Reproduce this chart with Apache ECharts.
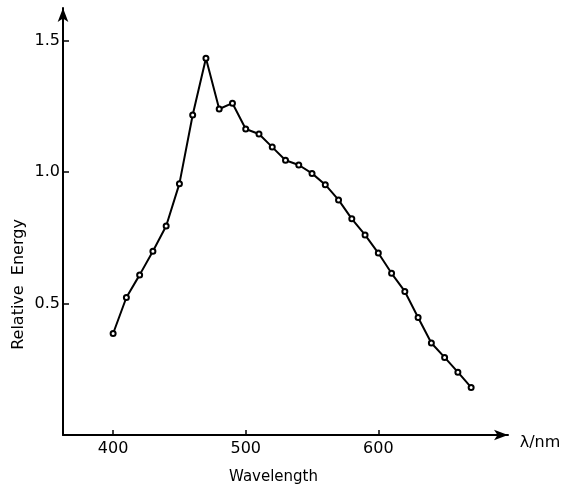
<!DOCTYPE html>
<html>
<head>
<meta charset="utf-8">
<script src="https://cdn.jsdelivr.net/npm/echarts@6/dist/echarts.min.js"></script>
<style>html,body{margin:0;padding:0;background:#fff}#c{width:577px;height:488px}</style>
</head>
<body>
<div id="c"></div>
<script>
var wavelengths = [400,410,420,430,440,450,460,470,480,490,500,510,520,530,540,550,560,570,580,590,600,610,620,630,640,650,660,670];
var energy = [0.386,0.523,0.609,0.699,0.795,0.956,1.217,1.433,1.240,1.262,1.164,1.145,1.095,1.045,1.027,0.995,0.952,0.894,0.822,0.761,0.692,0.615,0.546,0.447,0.350,0.295,0.239,0.181];
var xTicks = [400,500,600];
var yTicks = [0.5,1.0,1.5];
var yTickLabels = ['0.5','1.0','1.5'];
var xTitle = 'Wavelength';
var yTitle = 'Relative  Energy';
var unitLabel = 'λ/nm';

var font = '"DejaVu Sans", sans-serif';
var chart = echarts.init(document.getElementById('c'), null, {renderer:'canvas'});
chart.setOption({
  animation:false,
  backgroundColor:'#fff',
  grid:{left:63, top:8, right:69, bottom:53, containLabel:false},
  xAxis:{
    type:'value', min:362.2, max:697.8,
    splitLine:{show:false},
    axisLine:{show:true, onZero:false, lineStyle:{color:'#000', width:2}, symbol:['none','arrow'], symbolSize:[8,14]},
    axisTick:{show:true, inside:true, length:5, lineStyle:{color:'#000', width:1.5}, customValues:xTicks},
    axisLabel:{show:true, margin:6, color:'#000', fontFamily:font, fontSize:16, customValues:xTicks}
  },
  yAxis:{
    type:'value', min:0, max:1.624,
    splitLine:{show:false},
    axisLine:{show:true, onZero:false, lineStyle:{color:'#000', width:2}, symbol:['none','arrow'], symbolSize:[8,14]},
    axisTick:{show:true, inside:true, length:6, lineStyle:{color:'#000', width:1.5}, customValues:yTicks},
    axisLabel:{show:true, margin:3, color:'#000', fontFamily:font, fontSize:16, customValues:yTicks,
      formatter:function(v){ var i = yTicks.indexOf(v); return i>=0 ? yTickLabels[i] : ''; }}
  },
  graphic:[{
    type:'text', x:273.5, y:477,
    style:{text:xTitle, fill:'#000', font:'15px "DejaVu Sans", sans-serif', textAlign:'center', textVerticalAlign:'middle'}
  },{
    type:'text', x:18.5, y:284.5, rotation:Math.PI/2,
    style:{text:yTitle, fill:'#000', font:'16px "DejaVu Sans", sans-serif', textAlign:'center', textVerticalAlign:'middle'}
  },{
    type:'text', x:540, y:443,
    style:{text:unitLabel, fill:'#000', font:'16px "DejaVu Sans", sans-serif', textAlign:'center', textVerticalAlign:'middle'}
  }],
  series:[{
    type:'line',
    data:wavelengths.map(function(w,i){return [w, energy[i]];}),
    lineStyle:{color:'#000', width:2},
    symbol:'emptyCircle', symbolSize:5,
    itemStyle:{color:'#000', borderColor:'#000', borderWidth:1},
    showSymbol:true
  }]
});
</script>
</body>
</html>
